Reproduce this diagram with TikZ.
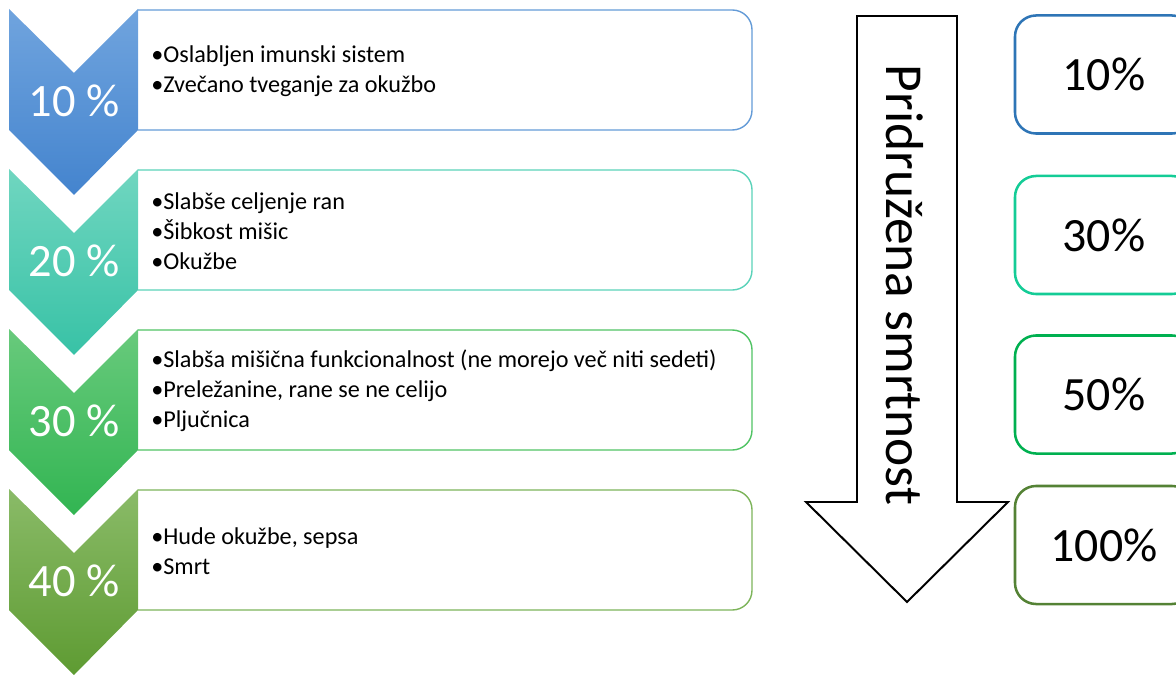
\documentclass[tikz,border=0pt]{standalone}
\usepackage{fontspec}
\setmainfont{Carlito}
\usetikzlibrary{shapes}

\definecolor{c1t}{RGB}{112,164,222}
\definecolor{c1b}{RGB}{68,132,206}
\definecolor{c1l}{RGB}{100,155,215}
\definecolor{c2t}{RGB}{112,214,192}
\definecolor{c2b}{RGB}{56,194,166}
\definecolor{c2l}{RGB}{90,210,185}
\definecolor{c3t}{RGB}{104,202,124}
\definecolor{c3b}{RGB}{50,181,82}
\definecolor{c3l}{RGB}{80,195,100}
\definecolor{c4t}{RGB}{138,187,104}
\definecolor{c4b}{RGB}{94,155,50}
\definecolor{c4l}{RGB}{125,180,90}
\definecolor{p1}{RGB}{46,117,182}
\definecolor{p2}{RGB}{20,204,150}
\definecolor{p3}{RGB}{0,176,80}
\definecolor{p4}{RGB}{84,130,53}

\begin{document}
\begin{tikzpicture}[x=0.025cm,y=-0.025cm]
    \tikzstyle{chevlabel}=[text=white, font=\fontsize{33}{33}\selectfont]
    \tikzstyle{itemlist}=[anchor=west, align=left, inner sep=0pt, font=\fontsize{17.2}{21.3}\selectfont]
    \tikzstyle{pbox}=[draw, line width=1.8pt, rounded corners=15pt, minimum width=4.45cm, minimum height=2.95cm, font=\fontsize{34}{34}\selectfont]
    \useasboundingbox (0,0) rectangle (1176,675);

    % chevrons and their boxes
    \foreach \r/\lab/\col in {0/10/c1, 1/20/c2, 2/30/c3, 3/40/c4} {
        \path[top color=\col t, bottom color=\col b]
            (9,9+160*\r) -- (74,73+160*\r) -- (138,9+160*\r) -- (138,130+160*\r)
            -- (74,195+160*\r) -- (9,130+160*\r) -- cycle;
        \draw[\col l, line width=1pt, rounded corners=14pt]
            (138,10+160*\r) -- (752,10+160*\r) -- (752,130+160*\r) -- (138,130+160*\r);
        \node[chevlabel] (lab\lab) at (74,101+160*\r) {\lab\ \%};
    }

    \node[itemlist] (list1) at (151,71) {•Oslabljen imunski sistem\\•Zvečano tveganje za okužbo};
    \node[itemlist] (list2) at (151,231) {•Slabše celjenje ran\\•Šibkost mišic\\•Okužbe};
    \node[itemlist] (list3) at (151,391) {•Slabša mišična funkcionalnost (ne morejo več niti sedeti)\\•Preležanine, rane se ne celijo\\•Pljučnica};
    \node[itemlist] (list4) at (151,551) {•Hude okužbe, sepsa\\•Smrt};

    % mortality arrow
    \draw[line width=1.4pt, fill=white] (857,16) -- (957,16) -- (957,502) -- (1008,502)
        -- (907,602) -- (806,502) -- (857,502) -- cycle;
    \node[rotate=-90, anchor=base, inner sep=0pt, font=\fontsize{38}{38}\selectfont] (mort) at (886,285) {Pridružena smrtnost};

    \node[pbox, draw=p1] (m10) at (1104,74.5) {10\%};
    \node[pbox, draw=p2] (m30) at (1104,235) {30\%};
    \node[pbox, draw=p3] (m50) at (1104,394.5) {50\%};
    \node[pbox, draw=p4] (m100) at (1104,545) {100\%};
\end{tikzpicture}
\end{document}
